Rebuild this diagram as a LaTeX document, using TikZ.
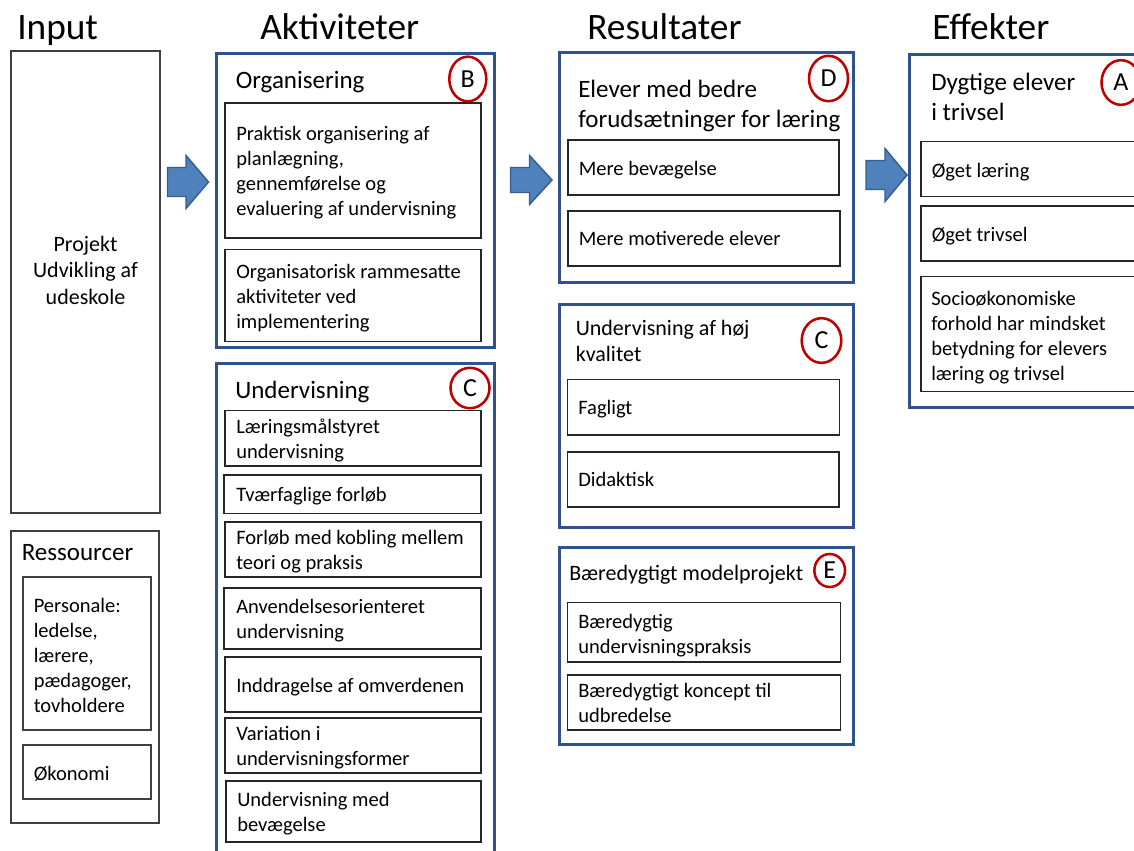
\documentclass[tikz,border=0pt]{standalone}
\usepackage{fontspec}
\setmainfont{Carlito}
\usetikzlibrary{shapes.geometric}

\definecolor{boxblue}{RGB}{47,82,143}
\definecolor{arrowfill}{RGB}{79,129,189}
\definecolor{arrowline}{RGB}{56,93,138}
\definecolor{badgered}{RGB}{192,0,0}
\definecolor{inputgray}{RGB}{64,64,64}

\newcommand{\headfont}{\fontsize{28}{33.6}\selectfont}
\newcommand{\titlefont}{\fontsize{18.75}{22.5}\selectfont}
\newcommand{\subfont}{\fontsize{16.5}{20}\selectfont}
\newcommand{\bodyfont}{\fontsize{15.4}{18.75}\selectfont}
\newcommand{\boxlines}[2][l]{\begin{tabular}[t]{@{}#1@{}}#2\end{tabular}}

\begin{document}
\begin{tikzpicture}[x=0.75pt,y=0.75pt,yscale=-1,xscale=1,
  outerbox/.style={draw=boxblue, line width=2.25pt},
  innerbox/.style={draw=black!85, line width=0.9pt},
  inputbox/.style={draw=inputgray, line width=0.9pt},
  blockarrow/.style={fill=arrowfill, draw=arrowline, line width=1.1pt},
  badge/.style={ellipse, draw=badgered, line width=1.9pt, inner sep=0pt, font=\fontsize{19.5}{23}\selectfont},
  txt/.style={anchor=base west, inner sep=0pt, font=\bodyfont}]
\clip (0,0) rectangle (1134,850);

% Headings
\draw (17,39) node [txt, font=\headfont] (input) {Input};
\draw (260,39) node [txt, font=\headfont] (aktiviteter) {Aktiviteter};
\draw (587,39) node [txt, font=\headfont] (resultater) {Resultater};
\draw (932,39) node [txt, font=\headfont] (effekter) {Effekter};

%Shape: Rectangle (input)
\draw [inputbox] (11,51) -- (160,51) -- (160,513) -- (11,513) -- cycle ;
% Text Node
\draw (85.5,251) node [anchor=base, inner sep=0pt, font=\subfont] (projekt) {\boxlines[c]{Projekt\\Udvikling af\\udeskole}};

%Shape: Rectangle (ressourcer)
\draw [inputbox] (11,531) -- (159,531) -- (159,823) -- (11,823) -- cycle ;
\draw [inputbox] (23,577) -- (151,577) -- (151,730) -- (23,730) -- cycle ;
\draw [inputbox] (23,745) -- (151,745) -- (151,799) -- (23,799) -- cycle ;
% Text Node
\draw (21.5,560) node [txt, font=\titlefont] (ressourcer) {Ressourcer};
\draw (33.5,612) node [txt] (personale) {\boxlines{Personale:\\ledelse,\\lærere,\\pædagoger,\\tovholdere}};
\draw (33.5,780) node [txt] (okonomi) {Økonomi};

%Shape: Block Arrow
\draw [blockarrow] (167.5,167.5) -- (186,167.5) -- (186,155.5) -- (208.5,182) -- (186,208.5) -- (186,196.5) -- (167.5,196.5) -- cycle ;
%Shape: Block Arrow
\draw [blockarrow] (510.5,167.5) -- (529.5,167.5) -- (529.5,155.5) -- (552,180) -- (529.5,204.5) -- (529.5,192.5) -- (510.5,192.5) -- cycle ;
%Shape: Block Arrow
\draw [blockarrow] (866,160.5) -- (885,160.5) -- (885,148.5) -- (907,175) -- (885,201.5) -- (885,189.5) -- (866,189.5) -- cycle ;

%Shape: Rectangle (organisering)
\draw [outerbox] (216.5,53) -- (494.5,53) -- (494.5,347) -- (216.5,347) -- cycle ;
\draw [innerbox] (225,103) -- (481,103) -- (481,238) -- (225,238) -- cycle ;
\draw [innerbox] (225,249.5) -- (481,249.5) -- (481,341.5) -- (225,341.5) -- cycle ;
% Text Node
\draw (235.5,88) node [txt, font=\titlefont] (organisering) {Organisering};
\draw (467.8,79) node [badge, minimum width=27.75pt, minimum height=33.5pt] (badgeB) {B};
\draw (236,140.5) node [txt] (praktisk) {\boxlines{Praktisk organisering af\\planlægning,\\gennemførelse og\\evaluering af undervisning}};
\draw (236,278) node [txt] (rammesatte) {\boxlines{Organisatorisk rammesatte\\aktiviteter ved\\implementering}};

%Shape: Rectangle (undervisning)
\draw [outerbox] (216.5,363.5) -- (494.5,363.5) -- (494.5,862) -- (216.5,862) -- cycle ;
\draw [innerbox] (225,410.5) -- (481,410.5) -- (481,466) -- (225,466) -- cycle ;
\draw [innerbox] (224,475) -- (481,475) -- (481,513.5) -- (224,513.5) -- cycle ;
\draw [innerbox] (225,522) -- (481,522) -- (481,577) -- (225,577) -- cycle ;
\draw [innerbox] (224,588) -- (481,588) -- (481,649) -- (224,649) -- cycle ;
\draw [innerbox] (225,657) -- (481,657) -- (481,712) -- (225,712) -- cycle ;
\draw [innerbox] (225,718) -- (481,718) -- (481,773) -- (225,773) -- cycle ;
\draw [innerbox] (226,781) -- (481,781) -- (481,842) -- (226,842) -- cycle ;
% Text Node
\draw (235,398) node [txt, font=\titlefont] (undervisning) {Undervisning};
\draw (470,388) node [badge, minimum width=29.25pt, minimum height=30.3pt] (badgeCa) {C};
\draw (236,433) node [txt] (maalstyret) {\boxlines{Læringsmålstyret\\undervisning}};
\draw (236,501) node [txt] (tvaerfaglige) {Tværfaglige forløb};
\draw (236,544) node [txt] (kobling) {\boxlines{Forløb med kobling mellem\\teori og praksis}};
\draw (236,613) node [txt] (anvendelse) {\boxlines{Anvendelsesorienteret\\undervisning}};
\draw (236,692) node [txt] (omverdenen) {Inddragelse af omverdenen};
\draw (236,740) node [txt] (variation) {\boxlines{Variation i\\undervisningsformer}};
\draw (237,806) node [txt] (bevaegelse) {\boxlines{Undervisning med\\bevægelse}};

%Shape: Rectangle (forudsaetninger)
\draw [outerbox] (559.5,52) -- (853.5,52) -- (853.5,282) -- (559.5,282) -- cycle ;
\draw [innerbox] (568,140) -- (839,140) -- (839,195) -- (568,195) -- cycle ;
\draw [innerbox] (568,211) -- (840,211) -- (840,266) -- (568,266) -- cycle ;
% Text Node
\draw (578,97) node [txt, font=\titlefont] (forudsaetninger) {\boxlines{Elever med bedre\\forudsætninger for læring}};
\draw (828.5,78.5) node [badge, minimum width=29.25pt, minimum height=34pt] (badgeD) {D};
\draw (578.5,175) node [txt] (merebev) {Mere bevægelse};
\draw (578.5,245.5) node [txt] (motiverede) {Mere motiverede elever};

%Shape: Rectangle (kvalitet)
\draw [outerbox] (559,304) -- (853,304) -- (853,527) -- (559,527) -- cycle ;
\draw [innerbox] (567.5,379.5) -- (839.5,379.5) -- (839.5,435) -- (567.5,435) -- cycle ;
\draw [innerbox] (567.5,452) -- (839,452) -- (839,507) -- (567.5,507) -- cycle ;
% Text Node
\draw (575.5,335) node [txt, font=\subfont] (kvalitet) {\boxlines{Undervisning af høj\\kvalitet}};
\draw (821.5,340.5) node [badge, minimum width=29.7pt, minimum height=33.5pt] (badgeCr) {C};
\draw (578,414) node [txt] (fagligt) {Fagligt};
\draw (578,486) node [txt] (didaktisk) {Didaktisk};

%Shape: Rectangle (modelprojekt)
\draw [outerbox] (559,547) -- (853,547) -- (853,744.5) -- (559,744.5) -- cycle ;
\draw [innerbox] (567.5,602.5) -- (840.5,602.5) -- (840.5,662) -- (567.5,662) -- cycle ;
\draw [innerbox] (567.5,675) -- (840.5,675) -- (840.5,730) -- (567.5,730) -- cycle ;
% Text Node
\draw (569,580) node [txt, font=\subfont] (modelprojekt) {Bæredygtigt modelprojekt};
\draw (829.7,570.5) node [badge, minimum width=23pt, minimum height=24.75pt] (badgeE) {E};
\draw (578,628) node [txt] (praksis) {\boxlines{Bæredygtig\\undervisningspraksis}};
\draw (578,697.5) node [txt] (koncept) {\boxlines{Bæredygtigt koncept til\\udbredelse}};

%Shape: Rectangle (trivsel)
\draw [outerbox] (909.7,54.7) -- (1145,54.7) -- (1145,407) -- (909.7,407) -- cycle ;
\draw [innerbox] (921,141.7) -- (1145,141.7) -- (1145,196.7) -- (921,196.7) -- cycle ;
\draw [innerbox] (921,206) -- (1145,206) -- (1145,261) -- (921,261) -- cycle ;
\draw [innerbox] (921,276.7) -- (1145,276.7) -- (1145,391.7) -- (921,391.7) -- cycle ;
% Text Node
\draw (931,90) node [txt, font=\titlefont] (dygtige) {\boxlines{Dygtige elever\\i trivsel}};
\draw (1121,82.5) node [badge, minimum width=29.25pt, minimum height=33.5pt] (badgeA) {A};
\draw (931.5,177) node [txt] (laering) {Øget læring};
\draw (931.5,241) node [txt] (oegettrivsel) {Øget trivsel};
\draw (931,305) node [txt] (socio) {\boxlines{Socioøkonomiske\\forhold har mindsket\\betydning for elevers\\læring og trivsel}};

\end{tikzpicture}
\end{document}
